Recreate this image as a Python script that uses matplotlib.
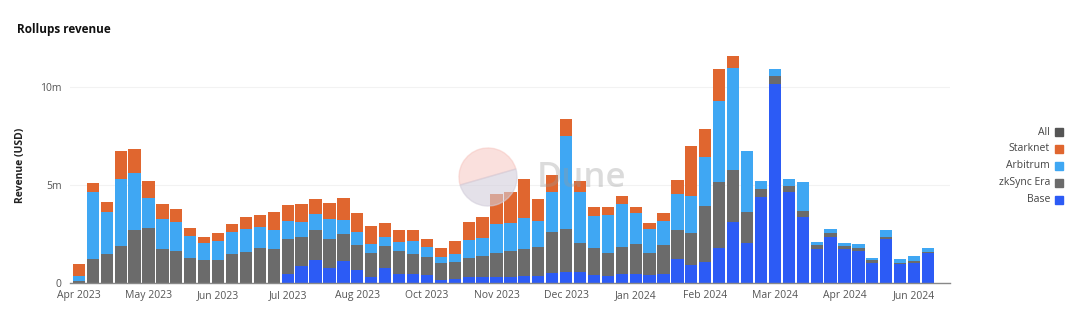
import matplotlib
matplotlib.use("Agg")
import matplotlib.pyplot as plt
from matplotlib.lines import Line2D
from matplotlib.patches import Wedge
import numpy as np

# ---- data (USD millions, weekly) ----
tick_labels = ["Apr 2023", "May 2023", "Jun 2023", "Jul 2023", "Aug 2023", "Oct 2023",
               "Nov 2023", "Dec 2023", "Jan 2024", "Feb 2024", "Mar 2024", "Apr 2024", "Jun 2024"]

base = [0, 0, 0, 0, 0, 0, 0, 0, 0, 0, 0, 0, 0, 0, 0.02,
        0.46, 0.87, 1.17, 0.77, 1.14, 0.66, 0.32, 0.77, 0.48, 0.44, 0.39, 0.15, 0.19, 0.29, 0.31,
        0.32, 0.32, 0.36, 0.36, 0.53, 0.58, 0.56, 0.39, 0.36, 0.46, 0.44, 0.39, 0.46, 1.24, 0.90,
        1.09, 1.80, 3.13, 2.02, 4.40, 10.15, 4.66, 3.38, 1.72, 2.36, 1.72, 1.63, 1.04, 2.24, 0.95,
        1.04, 1.52]
zksync = [0.12, 1.22, 1.48, 1.89, 2.70, 2.82, 1.73, 1.65, 1.29, 1.19, 1.17, 1.48, 1.60, 1.77, 1.71,
          1.80, 1.48, 1.53, 1.49, 1.38, 1.28, 1.23, 1.13, 1.17, 1.06, 0.95, 0.89, 0.86, 1.00, 1.05,
          1.19, 1.33, 1.39, 1.46, 2.07, 2.16, 1.50, 1.41, 1.19, 1.39, 1.55, 1.16, 1.46, 1.45, 1.64,
          2.84, 3.34, 2.64, 1.62, 0.40, 0.41, 0.29, 0.29, 0.20, 0.21, 0.17, 0.17, 0.12, 0.12, 0.09,
          0.08, 0.08]
arbitrum = [0.25, 3.41, 2.16, 3.42, 2.90, 1.52, 1.52, 1.48, 1.11, 0.87, 0.96, 1.11, 1.14, 1.07, 0.97,
            0.90, 0.78, 0.80, 1.01, 0.69, 0.66, 0.46, 0.43, 0.42, 0.66, 0.48, 0.30, 0.45, 0.90, 0.94,
            1.52, 1.39, 1.58, 1.34, 2.03, 4.78, 2.60, 1.62, 1.92, 2.18, 1.60, 1.19, 1.26, 1.85, 1.91,
            2.48, 4.15, 5.23, 3.11, 0.39, 0.36, 0.34, 1.50, 0.17, 0.17, 0.13, 0.17, 0.10, 0.34, 0.17,
            0.27, 0.19]
starknet = [0.58, 0.46, 0.48, 1.44, 1.25, 0.88, 0.76, 0.63, 0.39, 0.30, 0.40, 0.42, 0.63, 0.65, 0.91,
            0.84, 0.90, 0.79, 0.79, 1.14, 0.99, 0.92, 0.75, 0.65, 0.56, 0.42, 0.46, 0.64, 0.94, 1.08,
            1.49, 1.60, 1.96, 1.11, 0.88, 0.83, 0.56, 0.47, 0.42, 0.41, 0.27, 0.31, 0.38, 0.72, 2.55,
            1.46, 1.66, 0.58, 0.0, 0.0, 0.03, 0.0, 0.0, 0.0, 0.0, 0.0, 0.0, 0.0, 0.0, 0.0,
            0.0, 0.0]

series_names = ["Base", "zkSync Era", "Arbitrum", "Starknet"]
colors = {"Base": "#2C5BF5", "zkSync Era": "#6B6B6B", "Arbitrum": "#3FA7F3", "Starknet": "#E0662F"}

plt.rcParams["font.family"] = ["Open Sans", "DejaVu Sans"]

fig = plt.figure(figsize=(10.8, 3.21), dpi=100)
ax = fig.add_axes([70 / 1080, 1 - 283 / 321, 880 / 1080, 235 / 321])

x = np.arange(len(base))
bottom = np.zeros(len(base))
for name, vals in zip(series_names, [base, zksync, arbitrum, starknet]):
    v = np.array(vals) * 1e6
    ax.bar(x, v, width=0.88, bottom=bottom, color=colors[name], linewidth=0, zorder=2)
    bottom += v

ax.set_xlim(-0.64, 62.58)
ax.set_ylim(0, 12e6)
ax.set_yticks([0, 5e6, 10e6])
ax.set_yticklabels(["0", "5m", "10m"])
ax.set_xticks(np.arange(0, len(base), 5))
ax.set_xticklabels(tick_labels)
ax.tick_params(axis="both", length=0, labelsize=7.5, colors="#555555")
ax.tick_params(axis="y", pad=6)
ax.tick_params(axis="x", pad=5)
ax.grid(axis="y", color="#f2f2f2", linewidth=0.8, zorder=0)
for s in ["top", "right", "left"]:
    ax.spines[s].set_visible(False)
ax.spines["bottom"].set_color("#888888")
ax.spines["bottom"].set_linewidth(1.0)
ax.set_ylabel("Revenue (USD)", fontsize=7.5, fontweight="bold", color="#222222", labelpad=10)

fig.text(17 / 1080, 1 - 29 / 321, "Rollups revenue", fontsize=8.5, fontweight="bold",
         color="#111111", ha="left", va="center")

# watermark
wedge1 = Wedge((488, 321 - 177), 29, 16, 196, color="#f6c3bd", alpha=0.5, transform=None)
wedge2 = Wedge((488, 321 - 177), 29, 196, 376, color="#d3cedb", alpha=0.6, transform=None)
fig.add_artist(wedge1)
fig.add_artist(wedge2)
fig.text(582 / 1080, 1 - 178 / 321, "Dune", fontsize=25, color="#9a9a9a", alpha=0.35,
         ha="center", va="center", fontweight="semibold")

# legend (manual, right aligned)
legend_items = [("All", "#555555"), ("Starknet", colors["Starknet"]), ("Arbitrum", colors["Arbitrum"]),
                ("zkSync Era", colors["zkSync Era"]), ("Base", colors["Base"])]
for i, (lab, col) in enumerate(legend_items):
    yy = 1 - (132 + 17 * i) / 321
    fig.text(1050 / 1080, yy, lab, fontsize=7.5, color="#444444", ha="right", va="center")
    fig.add_artist(Line2D([1059 / 1080], [yy], marker="s", markersize=6, color=col,
                          transform=fig.transFigure, linestyle="none"))

fig.savefig("out.png", dpi=100, facecolor="white")
